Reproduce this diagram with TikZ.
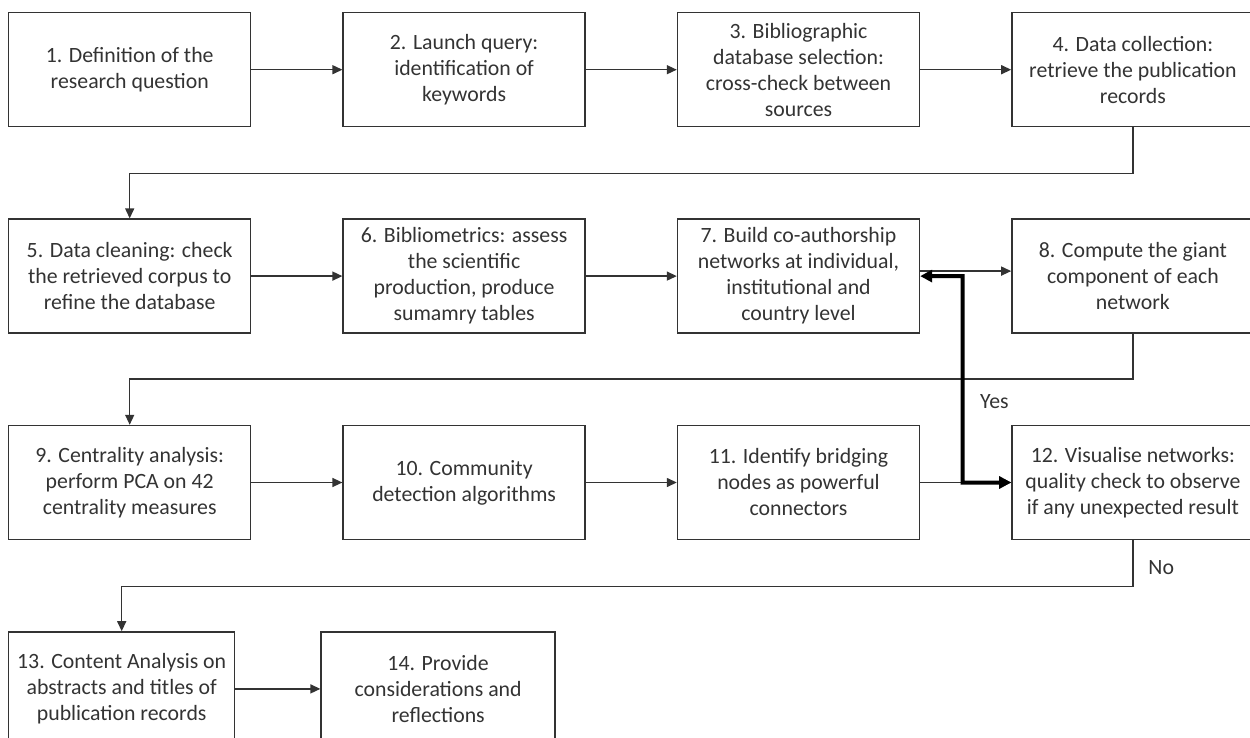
\documentclass[tikz,border=0pt]{standalone}
\usepackage{fontspec}
\setmainfont{Carlito}
\usetikzlibrary{arrows.meta, positioning, calc}

\begin{document}
\begin{tikzpicture}[
    x=1pt, y=1pt,
    node distance=91pt,
    stage/.style={draw=black!80, line width=1.4pt, minimum width=242pt, minimum height=114pt, align=center, text=black!80, font=\fontsize{21.8}{26}\selectfont, inner sep=2pt},
    flow/.style={draw=black!80, line width=1.4pt, -{Triangle[length=10pt, width=9pt]}},
    feedback/.style={draw=black, line width=4pt, {Triangle[length=12pt, width=12pt]}-{Triangle[length=12pt, width=12pt]}},
    lbl/.style={text=black!80, font=\fontsize{21.8}{26}\selectfont},
]
\useasboundingbox (0,0) rectangle (1250,-738);
\clip (0,0) rectangle (1250,-738);

\node[stage, anchor=north west] (s1) at (8,-12) {1. Definition of the\\research question};
\node[stage, right=of s1] (s2) {2. Launch query:\\identification of\\keywords};
\node[stage, right=of s2] (s3) {3. Bibliographic\\database selection:\\cross-check between\\sources};
\node[stage, right=of s3] (s4) {4. Data collection:\\retrieve the publication\\records};

\node[stage, below=of s1] (s5) {5. Data cleaning: check\\the retrieved corpus to\\refine the database};
\node[stage, right=of s5] (s6) {6. Bibliometrics: assess\\the scientific\\production, produce\\sumamry tables};
\node[stage, right=of s6] (s7) {7. Build co-authorship\\networks at individual,\\institutional and\\country level};
\node[stage, right=of s7] (s8) {8. Compute the giant\\component of each\\network};

\node[stage, below=of s5] (s9) {9. Centrality analysis:\\perform PCA on 42\\centrality measures};
\node[stage, right=of s9] (s10) {10. Community\\detection algorithms};
\node[stage, right=of s10] (s11) {11. Identify bridging\\nodes as powerful\\connectors};
\node[stage, right=of s11] (s12) {12. Visualise networks:\\quality check to observe\\if any unexpected result};

\node[stage, minimum width=226pt, below=of s9.south west, anchor=north west] (s13) {13. Content Analysis on\\abstracts and titles of\\publication records};
\node[stage, minimum width=234pt, right=85pt of s13] (s14) {14. Provide\\considerations and\\reflections};

% row connectors
\draw[flow] (s1) -- (s2);
\draw[flow] (s2) -- (s3);
\draw[flow] (s3) -- (s4);
\draw[flow] (s4.south) -- ++(0,-46) -| (s5.north);
\draw[flow] (s5) -- (s6);
\draw[flow] (s6) -- (s7);
\draw[flow] ([yshift=5pt]s7.east) -- ([yshift=5pt]s8.west);
\draw[flow] (s8.south) -- ++(0,-45) -| (s9.north);
\draw[flow] (s9) -- (s10);
\draw[flow] (s10) -- (s11);
\draw[flow] (s11) -- (s12);
\draw[flow] (s12.south) -- ++(0,-46) -| (s13.north);
\draw[flow] (s13) -- (s14);

% quality check loop
\coordinate (turn) at ($(s7.east)!0.467!(s8.west)$);
\draw[feedback] (s7.east) -- (turn) |- (s12.west);

\node[lbl, anchor=west] (yes) at ([xshift=14pt, yshift=-125pt]turn) {Yes};
\node[lbl, anchor=west] (no) at ([xshift=12pt, yshift=-27pt]s12.south) {No};
\end{tikzpicture}
\end{document}
